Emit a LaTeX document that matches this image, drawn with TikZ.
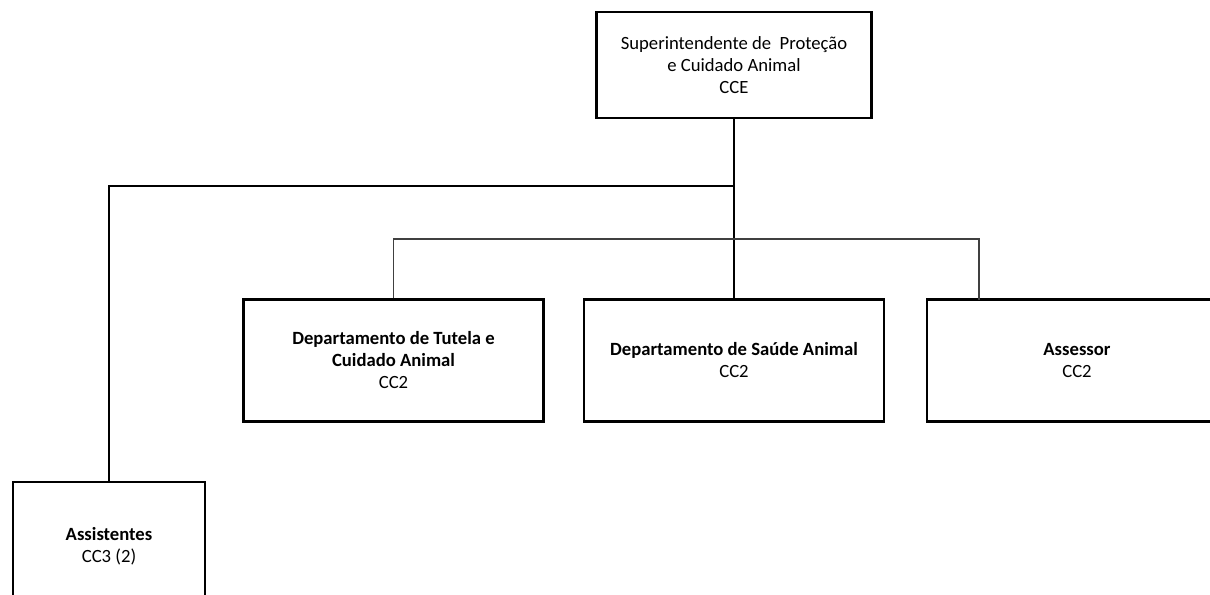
\documentclass[tikz,border=0pt]{standalone}
\usepackage{fontspec}
\setmainfont{Carlito}
\usepackage{tikz}
\usetikzlibrary{%
  positioning,% wg. " of "
  calc%
}

\tikzset{
  orgbox/.style={draw, line width=1.6pt, align=center, inner sep=2pt,
    font=\fontsize{14}{16.5}\selectfont},
  orgline/.style={line width=1.5pt},
  thinline/.style={line width=0.8pt, black!75}
}

\begin{document}
\begin{tikzpicture}[x=0.75pt, y=-0.75pt]
\useasboundingbox (0,0) rectangle (1210,595);
\node [orgbox, minimum width=206.25pt, minimum height=79.5pt] (sup) at (734,65)
  {Superintendente de~ Proteção\\ e Cuidado Animal\\ CCE};
\node [orgbox, minimum width=225pt, minimum height=91.5pt] (tutela) at (393.5,360.5)
  {\textbf{Departamento de Tutela e}\\ \textbf{Cuidado Animal}\\ CC2};
\node [orgbox, minimum width=225pt, minimum height=91.5pt] (saude) at (734,360.5)
  {\textbf{Departamento de Saúde Animal}\\ CC2};
\node [orgbox, minimum width=225pt, minimum height=91.5pt] (assessor) at (1077,360.5)
  {\textbf{Assessor}\\ CC2};
\node [orgbox, minimum width=144pt, minimum height=96pt] (assist) at (109,546)
  {\textbf{Assistentes}\\ CC3 (2)};
\coordinate (j1) at (734,186);
\coordinate (j2) at (734,239);
\coordinate (a3) at (979,300);
\draw [orgline] (sup.south) -- (saude.north);
\draw [orgline] (j1) -| (assist.north);
\draw [thinline] (tutela.north) |- (a3 |- j2) -- (a3);
\end{tikzpicture}
\end{document}
